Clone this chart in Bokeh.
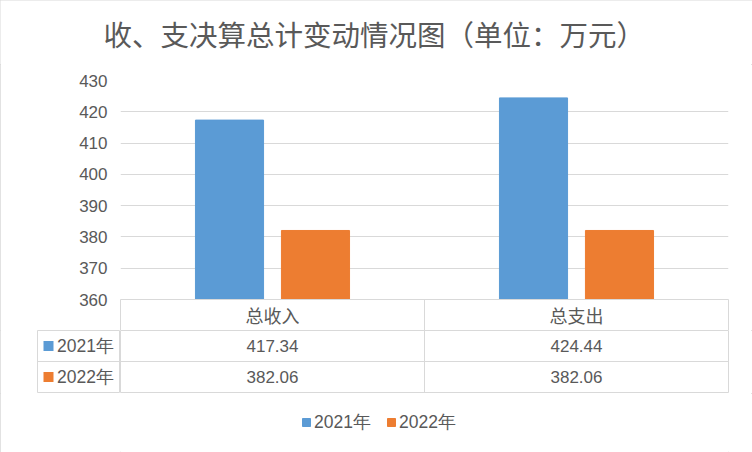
from bokeh.plotting import figure
from bokeh.models import (FactorRange, Range1d, FixedTicker, ColumnDataSource, Span, Legend,
                          LegendItem, LinearAxis)
from bokeh.layouts import column, row
from bokeh.transform import dodge
from bokeh.core.properties import value
from bokeh.embed import file_html
from bokeh.resources import INLINE

# ---------------- data ----------------
title_text = "收、支决算总计变动情况图（单位：万元）"
categories = ["总收入", "总支出"]
series_names = ["2021年", "2022年"]
values_2021 = [417.34, 424.44]
values_2022 = [382.06, 382.06]
y_ticks = [360, 370, 380, 390, 400, 410, 420, 430]

# ---------------- style ----------------
colors = ["#5b9bd5", "#ed7d31"]
TEXT = "#595959"
LINE = "#d9d9d9"
LATIN = "Liberation Sans"
CJK = "Noto Sans CJK SC"
FS_NUM = "17px"
FS_LBL = "17.5px"
FS_CJK = "18px"
W, LEFT, RIGHT = 752, 120, 24

fmt = lambda v: f"{v:.2f}"
n = len(categories)

def bare(fig):
    fig.grid.visible = False
    fig.outline_line_color = None
    return fig

# ---------------- title ----------------
p_title = bare(figure(width=W, height=64, x_range=Range1d(0, 1), y_range=Range1d(0, 1),
                      output_backend="svg", toolbar_location=None,
                      x_axis_location=None, y_axis_location=None, min_border=0))
p_title.text(x=[0.137], y=[0.48], text=[title_text], text_align="left", text_baseline="middle",
             text_font=value(CJK), text_font_size="28.5px", text_color=TEXT)

# ---------------- bar chart (with table header as category axis) ----------------
src = ColumnDataSource(dict(cat=categories, y2021=values_2021, y2022=values_2022))
x_range = FactorRange(factors=categories, range_padding=0)

p = figure(width=W, height=266, x_range=x_range,
           y_range=Range1d(y_ticks[0], y_ticks[-1]),
           output_backend="svg", toolbar_location=None, x_axis_location=None,
           min_border_left=LEFT, min_border_right=RIGHT, min_border_top=16, min_border_bottom=31)
p.outline_line_color = None
p.xgrid.visible = False
p.ygrid.ticker = FixedTicker(ticks=y_ticks)
p.ygrid.grid_line_color = LINE
p.yaxis.ticker = FixedTicker(ticks=y_ticks)
p.yaxis.axis_line_color = None
p.yaxis.major_tick_line_color = None
p.yaxis.minor_tick_line_color = None
p.yaxis.major_label_standoff = 7
p.yaxis.major_label_text_font = LATIN
p.yaxis.major_label_text_font_size = FS_NUM
p.yaxis.major_label_text_color = TEXT

p.vbar(x=dodge("cat", -0.1414, range=x_range), top="y2021", bottom=y_ticks[0],
       width=0.224, color=colors[0], source=src)
p.vbar(x=dodge("cat", 0.1414, range=x_range), top="y2022", bottom=y_ticks[0],
       width=0.224, color=colors[1], source=src)

# header row of the data table: category labels (at category centres) with cell dividers
hdr_axis = LinearAxis(ticker=FixedTicker(ticks=[i + 0.5 for i in range(n)],
                                         minor_ticks=list(range(n + 1))),
                      major_label_overrides={i + 0.5: c for i, c in enumerate(categories)},
                      axis_line_color=LINE, major_tick_line_color=None,
                      major_tick_out=0, major_tick_in=0,
                      minor_tick_line_color=LINE, minor_tick_out=31, minor_tick_in=0,
                      major_label_standoff=-29, major_label_text_font=CJK,
                      major_label_text_font_size=FS_CJK, major_label_text_color=TEXT)
p.add_layout(hdr_axis, "below")

# ---------------- data table rows ----------------
rows = [series_names[1], series_names[0]]

p_table = figure(width=W - LEFT, height=63, x_range=x_range, y_range=FactorRange(factors=rows),
                 output_backend="svg", toolbar_location=None,
                 x_axis_location=None, y_axis_location=None,
                 min_border_left=0, min_border_right=RIGHT, min_border_top=0, min_border_bottom=1)
p_table.grid.visible = False
p_table.outline_line_color = LINE
for i in range(1, n):
    p_table.add_layout(Span(location=i, dimension="height", line_color=LINE, line_width=1))
for j in range(1, len(rows)):
    p_table.add_layout(Span(location=j, dimension="width", line_color=LINE, line_width=1))

val_src = ColumnDataSource(dict(
    x=categories + categories,
    y=[series_names[0]] * n + [series_names[1]] * n,
    t=[fmt(v) for v in values_2021] + [fmt(v) for v in values_2022]))
p_table.text(x="x", y="y", text="t", source=val_src, text_align="center", text_baseline="middle",
             text_font=value(LATIN), text_font_size=FS_NUM, text_color=TEXT)

# left column of table (legend keys)
p_left = figure(width=LEFT, height=63, x_range=Range1d(0, 1), y_range=FactorRange(factors=rows),
                output_backend="svg", toolbar_location=None,
                x_axis_location=None, y_axis_location=None,
                min_border_left=37, min_border_right=0, min_border_top=0, min_border_bottom=1)
p_left.grid.visible = False
p_left.outline_line_color = LINE
for j in range(1, len(rows)):
    p_left.add_layout(Span(location=j, dimension="width", line_color=LINE, line_width=1))
key_src = ColumnDataSource(dict(y=series_names, c=colors, t=series_names))
p_left.rect(x=0.1325, y="y", width=10, height=10, width_units="screen", height_units="screen",
            fill_color="c", line_color=None, source=key_src)
p_left.text(x=0.235, y="y", text="t", source=key_src, text_align="left", text_baseline="middle",
            text_font=value(LATIN), text_font_size=FS_LBL, text_color=TEXT)

# ---------------- legend ----------------
p_leg = bare(figure(width=W, height=59, x_range=Range1d(0, 1), y_range=Range1d(0, 1),
                    output_backend="svg", toolbar_location=None,
                    x_axis_location=None, y_axis_location=None,
                    min_border_left=LEFT, min_border_right=RIGHT, min_border_top=0,
                    min_border_bottom=0))
nan = float("nan")
r1 = p_leg.vbar(x=[nan], top=[nan], width=0.1, color=colors[0])
r2 = p_leg.vbar(x=[nan], top=[nan], width=0.1, color=colors[1])
legend = Legend(items=[LegendItem(label=series_names[0], renderers=[r1]),
                       LegendItem(label=series_names[1], renderers=[r2])],
                orientation="horizontal", location=(181, 18),
                border_line_color=None, background_fill_alpha=0,
                label_text_font=LATIN, label_text_font_size=FS_LBL, label_text_color=TEXT,
                glyph_width=10, glyph_height=10, label_standoff=3, spacing=15,
                padding=0, margin=0)
p_leg.add_layout(legend)

layout = column(row(p_title), p, row(p_left, p_table), p_leg,
                styles={"outline": "1px solid #d9d9d9", "outline-offset": "-1px"})

open("out.html", "w").write(file_html(layout, INLINE))
